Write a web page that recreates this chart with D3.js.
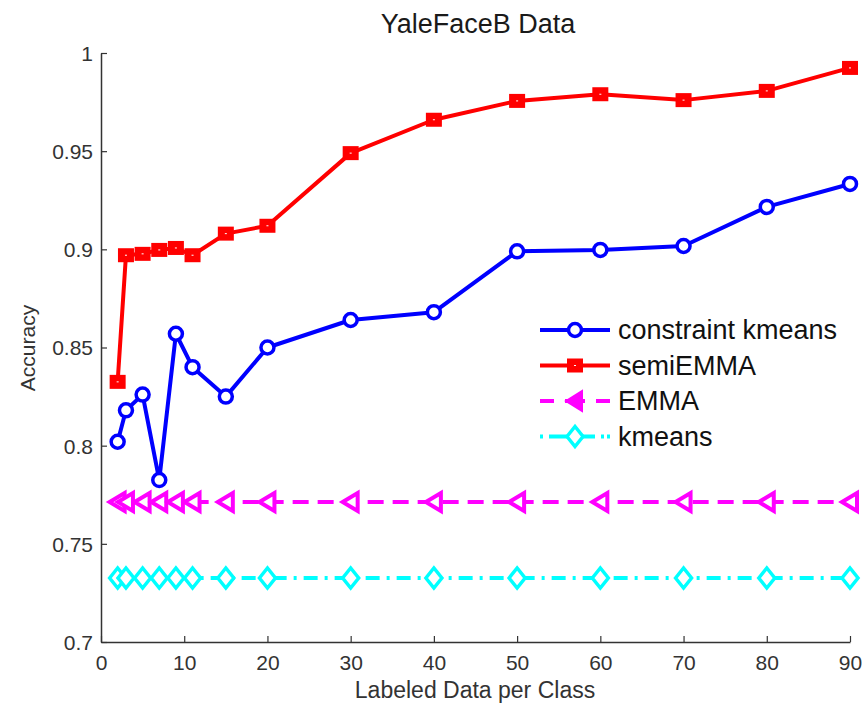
<!DOCTYPE html>
<html><head><meta charset="utf-8">
<script src="https://cdn.jsdelivr.net/npm/d3@7"></script>
<style>body{margin:0;background:#fff;}svg{font-family:Arial,"Liberation Sans",sans-serif;}</style>
</head><body>
<svg id="c" width="864" height="703"></svg>
<script>
const xValues = [2,3,5,7,9,11,15,20,30,40,50,60,70,80,90];
const constraintKmeans = [0.802,0.818,0.826,0.7825,0.857,0.840,0.825,0.850,0.864,0.868,0.899,0.8997,0.9017,0.9216,0.9333];
const semiEMMA = [0.8325,0.897,0.8977,0.8997,0.9007,0.897,0.908,0.912,0.949,0.966,0.9756,0.979,0.976,0.9807,0.9924];
const EMMA = [0.7713,0.7713,0.7713,0.7713,0.7713,0.7713,0.7713,0.7713,0.7713,0.7713,0.7713,0.7713,0.7713,0.7713,0.7713];
const kmeans = [0.7326,0.7326,0.7326,0.7326,0.7326,0.7326,0.7326,0.7326,0.7326,0.7326,0.7326,0.7326,0.7326,0.7326,0.7326];
const xTicks = [0,10,20,30,40,50,60,70,80,90];
const yTicks = [0.7,0.75,0.8,0.85,0.9,0.95,1];
const seriesNames = ["constraint kmeans","semiEMMA","EMMA","kmeans"];

const svg = d3.select("#c");
const L=101, R=850, T=53, B=642;
const x = d3.scaleLinear().domain([0,90]).range([L,R]);
const y = d3.scaleLinear().domain([0.7,1]).range([B,T]);

// axes
const xAxis = svg.append("g").attr("transform",`translate(0,${B})`)
  .call(d3.axisBottom(x).tickValues(xTicks).tickSizeInner(-6).tickSizeOuter(0).tickPadding(13).tickFormat(d3.format("d")));
const yAxis = svg.append("g").attr("transform",`translate(${L},0)`)
  .call(d3.axisLeft(y).tickValues(yTicks).tickSizeInner(-6).tickSizeOuter(0).tickPadding(8).tickFormat(d=>d===1?"1":String(d)));
[xAxis,yAxis].forEach(a=>{
  a.selectAll("path").attr("stroke","#333").attr("stroke-width",1.5);
  a.selectAll("line").attr("stroke","#333").attr("stroke-width",1.2);
  a.selectAll("text").attr("font-size",21).attr("fill","#333").attr("font-family","Arial, Liberation Sans, sans-serif");
});
xAxis.selectAll("text").attr("dy","0.71em");
yAxis.selectAll("text").attr("dy","0.35em");

svg.append("text").attr("x",478).attr("y",33).attr("text-anchor","middle").attr("font-size",27).attr("fill","#1a1a1a").text("YaleFaceB Data");
svg.append("text").attr("x",475).attr("y",698).attr("text-anchor","middle").attr("font-size",23).attr("fill","#333").text("Labeled Data per Class");
svg.append("text").attr("transform",`translate(35,${348}) rotate(-90)`).attr("text-anchor","middle").attr("font-size",21).attr("fill","#333").text("Accuracy");

const styles = [
  {data:constraintKmeans,color:"#0000ff",dash:null,marker:"circle"},
  {data:semiEMMA,color:"#ff0000",dash:null,marker:"square"},
  {data:EMMA,color:"#ff00ff",dash:"16,9",marker:"triangle"},
  {data:kmeans,color:"#00ffff",dash:"14,7,3,7",marker:"diamond"}
];
const line = d3.line().x(d=>x(d[0])).y(d=>y(d[1]));

function drawMarker(g,type,cx,cy,color){
  if(type==="circle"){
    g.append("circle").attr("cx",cx).attr("cy",cy).attr("r",6.5).attr("fill","white").attr("stroke",color).attr("stroke-width",3.5);
  } else if(type==="square"){
    g.append("rect").attr("x",cx-8).attr("y",cy-7).attr("width",16).attr("height",14).attr("fill",color);
    g.append("rect").attr("x",cx-1).attr("y",cy-0.5).attr("width",2).attr("height",1).attr("fill","#fff");
  } else if(type==="triangle"){
    g.append("path").attr("d",`M${cx-8},${cy} L${cx+7},${cy-9} L${cx+7},${cy+9} Z`).attr("fill","white").attr("stroke",color).attr("stroke-width",4).attr("stroke-linejoin","miter");
  } else if(type==="diamond"){
    g.append("path").attr("d",`M${cx-8},${cy} L${cx},${cy-10} L${cx+8},${cy} L${cx},${cy+10} Z`).attr("fill","white").attr("stroke",color).attr("stroke-width",3.5);
  }
}

[3,2,1,0].forEach(i=>{
  const s=styles[i];
  const pts = xValues.map((xv,j)=>[xv,s.data[j]]);
  const g = svg.append("g");
  g.append("path").attr("d",line(pts)).attr("fill","none").attr("stroke",s.color).attr("stroke-width",4)
    .attr("stroke-dasharray",s.dash).attr("stroke-linejoin","round");
  pts.forEach(p=>drawMarker(g,s.marker,x(p[0]),y(p[1]),s.color));
});

// legend
const lg = svg.append("g");
const ly0=330, ldy=35.5;
styles.forEach((s,i)=>{
  const yy = ly0+i*ldy;
  lg.append("line").attr("x1",540).attr("x2",610).attr("y1",yy).attr("y2",yy).attr("stroke",s.color).attr("stroke-width",4).attr("stroke-dasharray",i===2?"14,11,20,11,14":(i===3?"3,6,19,8,19,6,3":null));
  if(s.marker==="triangle"){
    lg.append("path").attr("d",`M${566},${yy} L${582},${yy-10} L${582},${yy+10} Z`).attr("fill",s.color).attr("stroke",s.color).attr("stroke-width",2);
  } else drawMarker(lg,s.marker,575,yy,s.color);
  lg.append("text").attr("x",618).attr("y",yy).attr("dy","0.35em").attr("font-size",27).attr("fill","#111").text(seriesNames[i]);
});
</script>
</body></html>
